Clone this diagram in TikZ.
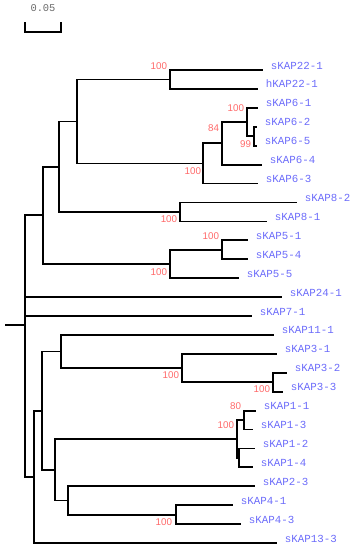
\documentclass[tikz,border=0pt]{standalone}
\usepackage{fontspec}
\newfontfamily\kapmono{Liberation Mono}
\newfontfamily\bootsans{Liberation Sans}
\definecolor{kapblue}{RGB}{108,108,250}
\definecolor{bootred}{RGB}{255,105,105}
\definecolor{scalegray}{RGB}{105,105,105}
\begin{document}
\begin{tikzpicture}[x=1pt,y=-1pt,line width=1.8pt,
  leaf/.style={anchor=west,inner xsep=7pt,inner ysep=0pt,text height=2pt,text depth=4pt,
    font=\kapmono\fontsize{10.8}{12}\selectfont,text=kapblue},
  boot/.style={anchor=east,inner sep=0pt,font=\bootsans\fontsize{9.8}{11}\selectfont,text=bootred}]
\useasboundingbox (0,0) rectangle (352,550);
% scale bar
\node[font=\kapmono\fontsize{10.4}{12}\selectfont,text=scalegray] (scl) at (43,8) {0.05};
\coordinate (sb1) at (25,22);
\coordinate (sb2) at (61,22);
\coordinate (sb3) at (61,32);
\draw (sb1) |- (sb3) -- (sb2);
% leaves
\node[leaf] (k221) at (263,70) {sKAP22-1};
\node[leaf] (h221) at (258,88.9) {hKAP22-1};
\node[leaf] (k61) at (258,107.8) {sKAP6-1};
\node[leaf] (k62) at (257,126.8) {sKAP6-2};
\node[leaf] (k65) at (257,145.7) {sKAP6-5};
\node[leaf] (k64) at (262,164.6) {sKAP6-4};
\node[leaf] (k63) at (258,183.5) {sKAP6-3};
\node[leaf] (k82) at (297,202.4) {sKAP8-2};
\node[leaf] (k81) at (267,221.4) {sKAP8-1};
\node[leaf] (k51) at (248,240.3) {sKAP5-1};
\node[leaf] (k54) at (248,259.2) {sKAP5-4};
\node[leaf] (k55) at (239,278.1) {sKAP5-5};
\node[leaf] (k241) at (282,297) {sKAP24-1};
\node[leaf] (k71) at (252,316) {sKAP7-1};
\node[leaf] (k111) at (274,334.9) {sKAP11-1};
\node[leaf] (k31) at (277,353.8) {sKAP3-1};
\node[leaf] (k32) at (287,372.7) {sKAP3-2};
\node[leaf] (k33) at (283,391.6) {sKAP3-3};
\node[leaf] (k11) at (256,410.6) {sKAP1-1};
\node[leaf] (k13) at (253,429.5) {sKAP1-3};
\node[leaf] (k12) at (255,448.4) {sKAP1-2};
\node[leaf] (k14) at (253,467.3) {sKAP1-4};
\node[leaf] (k23) at (255,486.2) {sKAP2-3};
\node[leaf] (k41) at (233,505.2) {sKAP4-1};
\node[leaf] (k43) at (241,524.1) {sKAP4-3};
\node[leaf] (k133) at (277,543) {sKAP13-3};
% inner nodes
\coordinate (c22) at (170,79.5);
\coordinate (c65) at (254,136.3);
\coordinate (c61) at (247,122);
\coordinate (c64) at (222,143.3);
\coordinate (c6) at (203,163.4);
\coordinate (c226) at (77,121.5);
\coordinate (c8) at (180,211.9);
\coordinate (c228) at (59,166.7);
\coordinate (c54) at (222,249.8);
\coordinate (c5) at (170,263.9);
\coordinate (c25) at (43,215.3);
\coordinate (c33) at (273,382.2);
\coordinate (c3) at (182,368);
\coordinate (c11) at (61,351.5);
\coordinate (c13) at (244,420);
\coordinate (c14) at (239,457.9);
\coordinate (c1) at (237,439);
\coordinate (c4) at (176,514.6);
\coordinate (c24) at (68,500.4);
\coordinate (c12) at (55,469.7);
\coordinate (c113) at (42,410.6);
\coordinate (c133) at (34,476.8);
\coordinate (root) at (25,325);
\coordinate (rootstub) at (5,325);
% branches
\draw (rootstub) -- (root);
\draw (root) |- (c25);
\draw (root) |- (k241.west);
\draw (root) |- (k71.west);
\draw (root) |- (c133);
\draw (c25) |- (c228);
\draw (c25) |- (c5);
\draw (c228) |- (c226);
\draw (c228) |- (c8);
\draw (c226) |- (c22);
\draw (c226) |- (c6);
\draw (c22) |- (k221.west);
\draw (c22) |- (h221.west);
\draw (c6) |- (c64);
\draw (c6) |- (k63.west);
\draw (c64) |- (c61);
\draw (c64) |- (k64.west);
\draw (c61) |- (k61.west);
\draw (c61) |- (c65);
\draw (c65) |- (k62.west);
\draw (c65) |- (k65.west);
\draw (c8) |- (k82.west);
\draw (c8) |- (k81.west);
\draw (c5) |- (c54);
\draw (c5) |- (k55.west);
\draw (c54) |- (k51.west);
\draw (c54) |- (k54.west);
\draw (c133) |- (c113);
\draw (c133) |- (k133.west);
\draw (c113) |- (c11);
\draw (c113) |- (c12);
\draw (c11) |- (k111.west);
\draw (c11) |- (c3);
\draw (c3) |- (k31.west);
\draw (c3) |- (c33);
\draw (c33) |- (k32.west);
\draw (c33) |- (k33.west);
\draw (c12) |- (c1);
\draw (c12) |- (c24);
\draw (c1) |- (c13);
\draw (c1) |- (c14);
\draw (c13) |- (k11.west);
\draw (c13) |- (k13.west);
\draw (c14) |- (k12.west);
\draw (c14) |- (k14.west);
\draw (c24) |- (k23.west);
\draw (c24) |- (c4);
\draw (c4) |- (k41.west);
\draw (c4) |- (k43.west);
% bootstrap values
\node[boot] (b22) at (168,66) {100};
\node[boot] (b61) at (245,108) {100};
\node[boot] (b64) at (220,128) {84};
\node[boot] (b65) at (252,144) {99};
\node[boot] (b6) at (202,171) {100};
\node[boot] (b8) at (178,219) {100};
\node[boot] (b54) at (220,236) {100};
\node[boot] (b5) at (168,272) {100};
\node[boot] (b3) at (180,375) {100};
\node[boot] (b33) at (271,389) {100};
\node[boot] (b13) at (242,406) {80};
\node[boot] (b1) at (235,425) {100};
\node[boot] (b4) at (173,522) {100};
\end{tikzpicture}
\end{document}
